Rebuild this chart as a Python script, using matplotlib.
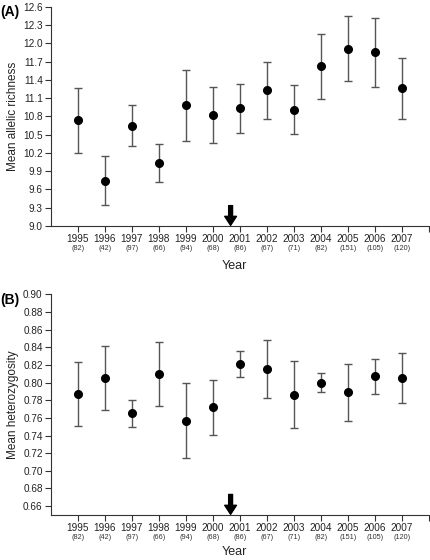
import numpy as np
import matplotlib
matplotlib.use("Agg")
import matplotlib.pyplot as plt

plt.rcParams['font.family'] = ['Liberation Sans', 'DejaVu Sans']

years = list(range(1995, 2008))
sample_sizes = [82, 42, 97, 66, 94, 68, 86, 67, 71, 82, 151, 105, 120]

# (A) mean allelic richness with lower / upper limits
ar_mean = [10.74, 9.74, 10.65, 10.03, 10.98, 10.82, 10.93, 11.23, 10.91, 11.62, 11.91, 11.85, 11.26]
ar_low = [10.20, 9.34, 10.32, 9.73, 10.40, 10.37, 10.52, 10.76, 10.51, 11.09, 11.38, 11.29, 10.76]
ar_high = [11.26, 10.15, 10.98, 10.35, 11.56, 11.29, 11.33, 11.70, 11.31, 12.15, 12.44, 12.41, 11.76]

# (B) mean heterozygosity with lower / upper limits
he_mean = [0.787, 0.805, 0.765, 0.810, 0.757, 0.772, 0.821, 0.815, 0.786, 0.800, 0.789, 0.807, 0.805]
he_low = [0.751, 0.769, 0.750, 0.774, 0.715, 0.741, 0.806, 0.782, 0.748, 0.789, 0.757, 0.787, 0.777]
he_high = [0.823, 0.841, 0.780, 0.846, 0.799, 0.803, 0.836, 0.848, 0.824, 0.811, 0.821, 0.827, 0.833]

arrow_year = 2000.66

fig = plt.figure(figsize=(4.3, 5.6), dpi=100)
ax_a = fig.add_axes([0.1186, 0.5964, 0.878, 0.3916])
ax_b = fig.add_axes([0.1186, 0.0804, 0.878, 0.3941])


def draw_panel(ax, mean, low, high, ylim, yticks, fmt, ylabel, letter, xlabel_y):
    mean = np.array(mean)
    err = np.array([mean - np.array(low), np.array(high) - mean])
    ax.errorbar(years, mean, yerr=err, fmt='o', color='black', markersize=5.5,
                ecolor='#555555', elinewidth=1.0, capsize=3, capthick=1.0)
    ax.set_xlim(1994, 2008)
    ax.set_ylim(*ylim)
    ax.set_yticks(yticks)
    ax.set_yticklabels([fmt.format(v) for v in yticks], fontsize=7.2, color='#222222')
    ax.set_xticks(years + [2008])
    ax.set_xticklabels([str(y) for y in years] + [''], fontsize=7.2, color='#222222')
    ax.tick_params(axis='both', direction='out', length=4, width=0.8, color='#333333', pad=2)
    for s in ['top', 'right']:
        ax.spines[s].set_visible(False)
    for s in ['left', 'bottom']:
        ax.spines[s].set_color('#333333')
        ax.spines[s].set_linewidth(0.8)
    for y, n in zip(years, sample_sizes):
        ax.annotate(f'({n})', xy=(y, 0), xycoords=('data', 'axes fraction'),
                    xytext=(0, -16.5), textcoords='offset points',
                    ha='center', va='center', fontsize=5.2, color='#333333')
    ax.set_ylabel(ylabel, fontsize=8.5, color='#222222')
    ax.yaxis.set_label_coords(-0.085, 0.5)
    ax.set_xlabel('Year', fontsize=9, color='#222222')
    ax.xaxis.set_label_coords(0.486, xlabel_y)
    ax.annotate('', xy=(arrow_year, 0.003), xycoords=('data', 'axes fraction'),
                xytext=(arrow_year, 0.093), textcoords=('data', 'axes fraction'),
                arrowprops=dict(facecolor='black', edgecolor='black', width=2.8,
                                headwidth=8.5, headlength=6.5, shrink=0))
    ax.text(-0.135, 0.975, letter, transform=ax.transAxes, fontsize=10,
            fontweight='bold', ha='left', va='center')


draw_panel(ax_a, ar_mean, ar_low, ar_high, (9.0, 12.6),
           [9.0, 9.3, 9.6, 9.9, 10.2, 10.5, 10.8, 11.1, 11.4, 11.7, 12.0, 12.3, 12.6],
           '{:.1f}', 'Mean allelic richness', '(A)', -0.155)
draw_panel(ax_b, he_mean, he_low, he_high, (0.65, 0.90),
           [0.66, 0.68, 0.70, 0.72, 0.74, 0.76, 0.78, 0.80, 0.82, 0.84, 0.86, 0.88, 0.90],
           '{:.2f}', 'Mean heterozygosity', '(B)', -0.14)

fig.savefig('out.png', dpi=100)
